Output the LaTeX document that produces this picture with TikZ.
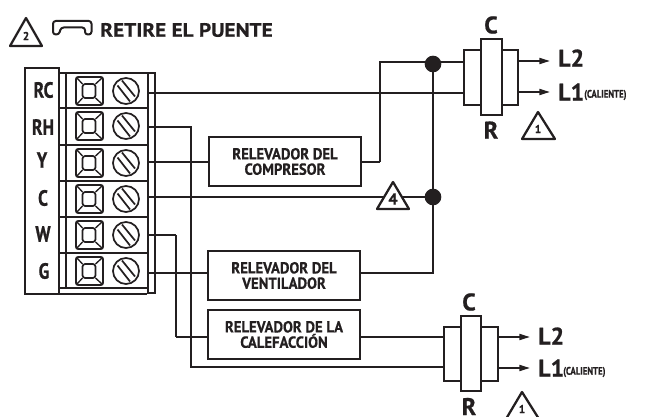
\documentclass[tikz,border=0pt]{standalone}
\usepackage{fontspec}
\setmainfont{PT Sans}
\newfontfamily\relf[FakeStretch=0.92,BoldFeatures={FakeBold=0.5,FakeStretch=0.92}]{PT Sans}
\newfontfamily\condf[FakeStretch=0.8,BoldFeatures={FakeBold=0.8,FakeStretch=0.8}]{PT Sans}
\newfontfamily\widef[BoldFeatures={FakeBold=0.8}]{PT Sans}
\newfontfamily\titlef[FakeStretch=1.1,BoldFeatures={FakeBold=0.5,FakeStretch=1.1}]{PT Sans}
\usetikzlibrary{arrows.meta}
\tikzset{
  x=0.75pt,y=-0.75pt,
  wire/.style={line width=1.5pt,draw=ink,line join=miter},
  relay/.style={draw=ink,line width=1.8pt,fill=white,minimum width=114pt,minimum height=37pt,inner sep=0pt,align=center,
     font=\relf\bfseries\fontsize{12}{11.5}\selectfont,text=ink},
  tri/.style={draw=ink,line width=1.7pt,fill=white,line join=round},
  trinum/.style={font=\widef\bfseries\fontsize{8.5}{8.5}\selectfont,text=ink,inner sep=0pt},
  dot/.style={circle,fill=ink,minimum size=12.5pt,inner sep=0pt},
  term/.style={font=\condf\bfseries\fontsize{16.5}{16.5}\selectfont,text=ink,inner sep=0pt},
  big/.style={font=\widef\bfseries\fontsize{18}{18}\selectfont,text=ink,inner sep=0pt},
  small/.style={font=\condf\bfseries\fontsize{8.2}{8.2}\selectfont,text=ink,inner sep=0pt,anchor=west},
  coil/.style={draw=ink,line width=1.6pt,fill=white},
  arrow/.style={line width=1.4pt,draw=ink,-{Triangle[length=8pt,width=4.5pt]}},
}
\definecolor{ink}{HTML}{231F20}
\newcommand{\terminal}[1]{%
  \draw[ink,line width=1.3pt,rounded corners=1.5pt] (76,#1-14) rectangle (103,#1+14);
  \draw[ink,line width=1.3pt,rounded corners=2pt] (82.5,#1-7) rectangle (95.5,#1+7);
  \draw[ink,line width=1pt] (77,#1-13)--(82.5,#1-7) (102,#1-13)--(95.5,#1-7) (77,#1+13)--(82.5,#1+7) (102,#1+13)--(95.5,#1+7);
  \draw[ink,line width=1.3pt] (126,#1) circle[radius=13];
  \draw[ink,line width=1.3pt] (117.5,#1-5.5)--(130,#1+10.5) (122,#1-10.5)--(135,#1+5.5);
}
\begin{document}
\begin{tikzpicture}
\useasboundingbox (0,0) rectangle (646,417);
\clip (0,0) rectangle (646,417);
\coordinate (rcS) at (155,93);
\coordinate (rhS) at (148,127);
\coordinate (yS) at (148,162);
\coordinate (cS) at (148,197);
\coordinate (wS) at (148,235);
\coordinate (gS) at (148,273);
\coordinate (c1a) at (464,62);
\coordinate (c1b) at (464,93);
\coordinate (c2a) at (444,337);
\coordinate (c2b) at (444,367);
\coordinate (k1) at (380,162);
\coordinate (k2) at (380,62);
\coordinate (k3) at (433,273);
\coordinate (k4) at (176,235);
\coordinate (k5) at (176,337);
\coordinate (k6) at (191,127);
\coordinate (k7) at (191,367);
% wires
\draw[wire] (rcS) -- (c1b);
\draw[wire] (k1) -- (k2) -- (c1a);
\draw[wire] (cS) -- (433,197);
\draw[wire] (k4) -- (k5);
\draw[wire] (wS) -- (k4);
\draw[wire] (rhS) -- (k6) -- (k7) -- (c2b);
\draw[wire] (yS) -- (k1);
\draw[wire] (gS) -- (k3) -- (433,64);
\draw[wire] (k5) -- (c2a);
% relays
\node[relay] (comp) at (285,161.5) {RELEVADOR DEL\\COMPRESOR};
\node[relay] (vent) at (284,275.5) {RELEVADOR DEL\\VENTILADOR};
\node[relay] (cale) at (284,334.5) {RELEVADOR DE LA\\CALEFACCIÓN};
% junctions
\node[dot] (j1) at (433,64) {};
\node[dot] (j2) at (433,197) {};
% triangle 4
\draw[tri] (393,182)--(409,209)--(377,209)--cycle;
\node[trinum,font=\widef\bfseries\fontsize{12}{12}\selectfont] (t4) at (393,199) {4};
% terminal block
\draw[wire,fill=white] (25,68) -- (59,68) -- (59,294) -- (25,294) -- cycle;
\draw[wire] (59,73) -- (155,73) -- (155,293) -- (148,293);
\draw[wire] (59,294) -- (147,294);
\draw[wire] (66,73) -- (66,288);
\draw[wire] (148,73) -- (148,294);
\foreach \yy in {108,145,181,217,253,288} \draw[wire] (59,\yy) -- (148,\yy);
\draw[wire] (148,93) -- (155,93);
\foreach \yy in {91,126,163,199,235,271} {\terminal{\yy}}
\node[term] (lrc) at (43.5,90) {RC};
\node[term] (lrh) at (43,127) {RH};
\node[term] (ly) at (42,160) {Y};
\node[term] (lc) at (43,198) {C};
\node[term] (lw) at (43,234) {W};
\node[term] (lg) at (44,271) {G};
% top contactor
\draw[coil] (464,50) rectangle (518,105);
\draw[coil] (481,39) rectangle (502,115);
\node[big] (uc) at (491,25) {C};
\node[big] (ur) at (491,130) {R};
\coordinate (o1) at (518,61);
\coordinate (o2) at (518,92);
\node[big,anchor=west] (l2a) at (558,58) {L2};
\node[big,anchor=west] (l1a) at (558,92) {L1};
\node[small] (ca) at (584,95) {(CALIENTE)};
\coordinate (a1) at (550,61);
\coordinate (a2) at (550,92);
\draw[arrow] (o1) -- (a1);
\draw[arrow] (o2) -- (a2);
\draw[tri] (538,112)--(555,139)--(522,139)--cycle;
\node[trinum] (t1a) at (538,129) {1};
% bottom contactor
\draw[coil] (444,327) rectangle (498,381);
\draw[coil] (461,316) rectangle (481,391);
\node[big] (lc2) at (469,302) {C};
\node[big] (lr2) at (469,406.5) {R};
\coordinate (o3) at (498,337);
\coordinate (o4) at (498,368);
\coordinate (a3) at (530,337);
\coordinate (a4) at (530,368);
\node[big,anchor=west] (l2b) at (538,336) {L2};
\node[big,anchor=west] (l1b) at (538,368) {L1};
\node[small] (cb) at (563,372) {(CALIENTE)};
\draw[arrow] (o3) -- (a3);
\draw[arrow] (o4) -- (a4);
\draw[tri] (522,392)--(539,419)--(506,419)--cycle;
\node[trinum] (t1b) at (522,409) {1};
% title
\draw[tri] (26,18)--(42,46)--(10,46)--cycle;
\node[trinum] (t2) at (26,36) {2};
\draw[ink,line width=1.5pt,line join=round,rounded corners=2pt] (53,34.5)--(53,21)--(91.5,21)--(91.5,34.5)--(85,34.5)--(85,27.5)--(61,27.5)--(59,34.5)--cycle;
\node[font=\titlef\bfseries\fontsize{14.5}{14.5}\selectfont,text=ink,inner sep=0pt,anchor=west] (title) at (100,30) {RETIRE EL PUENTE};
\end{tikzpicture}
\end{document}
